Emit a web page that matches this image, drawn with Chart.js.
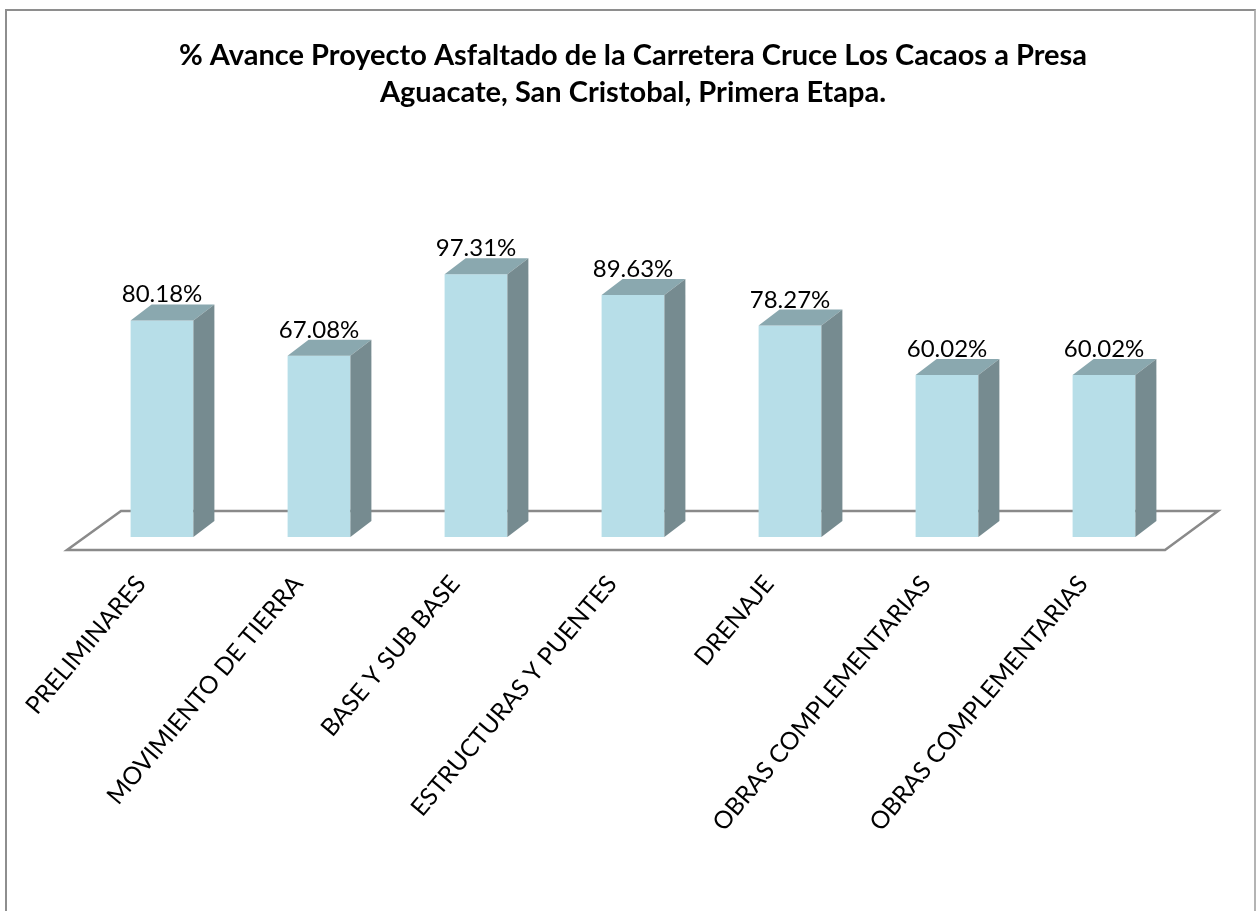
<!DOCTYPE html>
<html><head><meta charset="utf-8">
<script src="https://cdn.jsdelivr.net/npm/chart.js@4.4.1/dist/chart.umd.min.js"></script>
<style>
html,body{margin:0;padding:0;background:#fff;}
#wrap{position:relative;width:1256px;height:911px;overflow:hidden;}
#frame{position:absolute;left:5px;top:9px;width:1251px;height:920px;border-top:2px solid #8e8e8e;border-left:2px solid #8e8e8e;border-right:2px solid #b4b4b4;box-sizing:border-box;}
canvas{position:absolute;left:0;top:0;}
</style></head>
<body><div id="wrap"><div id="frame"></div><canvas id="c" width="1256" height="911"></canvas></div>
<script>
const categories = ['PRELIMINARES','MOVIMIENTO DE TIERRA','BASE Y SUB BASE','ESTRUCTURAS Y PUENTES','DRENAJE','OBRAS COMPLEMENTARIAS','OBRAS COMPLEMENTARIAS'];
const values = [80.18, 67.08, 97.31, 89.63, 78.27, 60.02, 60.02];
const valueLabels = ['80.18%','67.08%','97.31%','89.63%','78.27%','60.02%','60.02%'];
const titleLines = ['% Avance Proyecto Asfaltado de la Carretera Cruce Los Cacaos a Presa','Aguacate, San Cristobal, Primera Etapa.'];

const DX = 21, DY = 16;
const bar3d = {
  id: 'bar3d',
  beforeDatasetsDraw(chart) {
    const ctx = chart.ctx, a = chart.chartArea;
    const base = chart.scales.y.getPixelForValue(0);
    ctx.save();
    ctx.beginPath();
    ctx.moveTo(a.left - 16.5, base + 13);
    ctx.lineTo(a.right - 17.5, base + 13);
    ctx.lineTo(a.right + 35.5, base - 26);
    ctx.lineTo(a.left + 37.5, base - 26);
    ctx.closePath();
    ctx.fillStyle = '#ffffff';
    ctx.fill();
    ctx.strokeStyle = '#8a8a8a';
    ctx.lineWidth = 2.5;
    ctx.stroke();
    ctx.restore();
  },
  afterDatasetsDraw(chart) {
    const ctx = chart.ctx;
    const meta = chart.getDatasetMeta(0);
    ctx.save();
    meta.data.forEach((bar, i) => {
      const p = bar.getProps(['x','y','base','width'], true);
      const l = p.x - p.width / 2, r = p.x + p.width / 2, t = p.y, b = p.base;
      ctx.beginPath();
      ctx.moveTo(l, t); ctx.lineTo(l + DX, t - DY); ctx.lineTo(r + DX, t - DY); ctx.lineTo(r, t); ctx.closePath();
      ctx.fillStyle = '#8aa8af'; ctx.fill();
      ctx.beginPath();
      ctx.moveTo(r, t); ctx.lineTo(r + DX, t - DY); ctx.lineTo(r + DX, b - DY); ctx.lineTo(r, b); ctx.closePath();
      ctx.fillStyle = '#768b90'; ctx.fill();
      ctx.fillStyle = '#000';
      ctx.font = '24px Lato';
      ctx.textAlign = 'center';
      ctx.textBaseline = 'alphabetic';
      ctx.fillText(valueLabels[i], p.x, t - DY - 2);
    });
    ctx.restore();
  }
};

new Chart(document.getElementById('c'), {
  type: 'bar',
  data: {
    labels: categories,
    datasets: [{
      data: values,
      backgroundColor: '#b7dee8',
      borderWidth: 0,
      barPercentage: 0.4,
      categoryPercentage: 1.0
    }]
  },
  options: {
    responsive: false,
    animation: false,
    devicePixelRatio: 1,
    layout: { padding: { left: 83.5, right: 73.5, top: 0, bottom: 0 } },
    plugins: {
      legend: { display: false },
      tooltip: { enabled: false },
      title: {
        display: true,
        text: titleLines,
        color: '#000',
        font: { family: 'Lato', size: 29, weight: 'bold', lineHeight: 1.3 },
        padding: { top: 36.5, bottom: 155 }
      }
    },
    scales: {
      y: { display: false, min: 0, max: 100 },
      x: {
        grid: { display: false },
        border: { display: false },
        ticks: {
          color: '#000',
          font: { family: 'Lato', size: 24.5 },
          minRotation: 50, maxRotation: 50,
          autoSkip: false,
          padding: 25,
          labelOffset: -21
        },
        afterFit(scale) { scale.height = 374; }
      }
    }
  },
  plugins: [bar3d]
});
</script>
</body></html>
